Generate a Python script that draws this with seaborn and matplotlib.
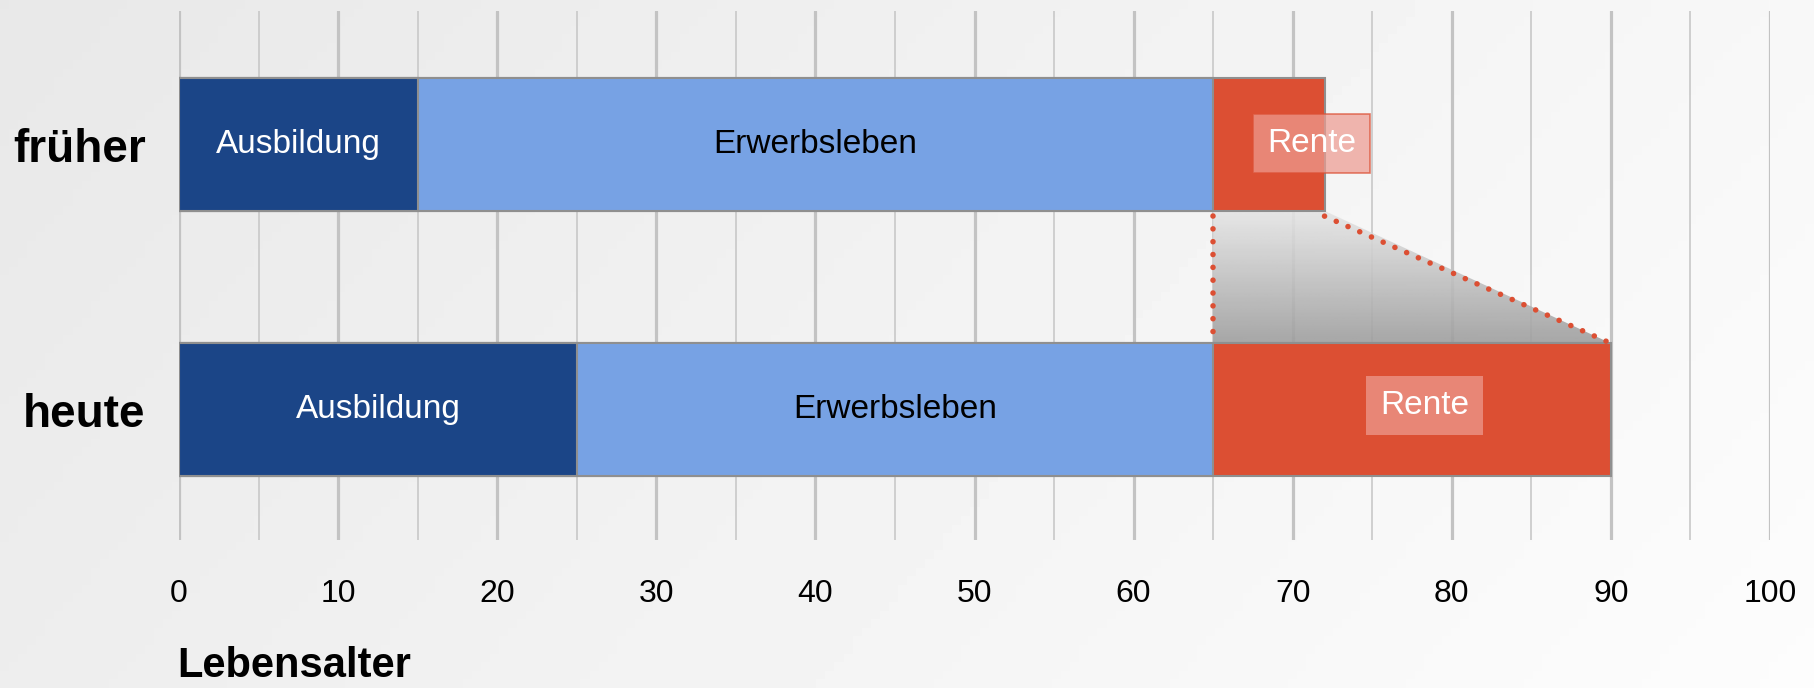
import numpy as np
import pandas as pd
import matplotlib
matplotlib.use("Agg")
import matplotlib.pyplot as plt
from matplotlib.patches import Polygon
from matplotlib.ticker import MultipleLocator
import seaborn as sns

# data
periods = ["früher", "heute"]
ausbildung_end = [15, 25]
erwerb_end = [65, 65]
rente_end = [72, 90]
segment_names = ["Ausbildung", "Erwerbsleben", "Rente"]
xticks = [0, 10, 20, 30, 40, 50, 60, 70, 80, 90, 100]

c_ausb = "#1b4587"
c_erwerb = "#77a2e4"
c_rente = "#dc4f33"
c_edge = "#8f8f8f"

sns.set_theme(style="white")
plt.rcParams["font.family"] = ["Liberation Sans", "DejaVu Sans"]

fig = plt.figure(figsize=(18.14, 6.88), dpi=100)

# soft grey background
bg = fig.add_axes([0, 0, 1, 1], zorder=-10)
xx, yy = np.meshgrid(np.linspace(0, 1, 200), np.linspace(0, 1, 80))
bg.imshow(0.91 + 0.06 * xx + 0.02 * yy, cmap="gray", vmin=0, vmax=1,
          extent=[0, 1, 0, 1], aspect="auto", origin="upper")
bg.axis("off")

ax = fig.add_axes([179 / 1814, 1 - 540 / 688, 1591 / 1814, 529 / 688])
ax.patch.set_alpha(0)

df = pd.DataFrame({"period": periods, "ausb": ausbildung_end,
                   "erwerb": erwerb_end, "rente": rente_end})

# stacked bars: longest first, shorter on top
bar_w = 0.5
for col, color in [("rente", c_rente), ("erwerb", c_erwerb), ("ausb", c_ausb)]:
    sns.barplot(data=df, x=col, y="period", orient="h", color=color,
                width=bar_w, edgecolor=c_edge, linewidth=1.5,
                saturation=1, ax=ax, zorder=2)

# gradient wedge between the two retirement segments
hw = bar_w / 2
poly = Polygon([(erwerb_end[0], hw), (rente_end[0], hw),
                (rente_end[1], 1 - hw), (erwerb_end[1], 1 - hw)],
               closed=True, transform=ax.transData, facecolor="none",
               edgecolor="none")
ax.add_patch(poly)
grad = np.linspace(0.90, 0.62, 100).reshape(-1, 1)
im = ax.imshow(grad, cmap="gray", vmin=0, vmax=1, aspect="auto",
               extent=[erwerb_end[1], rente_end[1], 1 - hw, hw],
               origin="upper", alpha=0.9, zorder=0.8)
im.set_clip_path(poly)

dot_style = dict(color=c_rente, ls=(0, (0.01, 2.3)), lw=4.0,
                 dash_capstyle="round", zorder=3)
ax.plot([erwerb_end[0], erwerb_end[1]], [hw + 0.02, 1 - hw], **dot_style)
ax.plot([rente_end[0], rente_end[1]], [hw + 0.02, 1 - hw], **dot_style)

# segment labels
for i in range(len(periods)):
    ax.text(ausbildung_end[i] / 2, i, segment_names[0], color="white",
            fontsize=24, ha="center", va="center", zorder=4)
    ax.text((ausbildung_end[i] + erwerb_end[i]) / 2, i, segment_names[1],
            color="black", fontsize=24, ha="center", va="center", zorder=4)

ax.text(71.2, -0.003, segment_names[2], color="white", fontsize=24,
        ha="center", va="center", zorder=5,
        bbox=dict(boxstyle="square,pad=0.42", facecolor="#ed9c91", alpha=0.72,
                  edgecolor=c_rente, linewidth=1.2))
ax.text(78.3, 0.985, segment_names[2], color="white", fontsize=24,
        ha="center", va="center", zorder=5,
        bbox=dict(boxstyle="square,pad=0.42", facecolor="#ed9c91", alpha=0.72,
                  edgecolor="none"))

# axes styling
ax.set_xlim(0, 100)
ax.set_ylim(1 + 0.492, -0.504)
ax.set_xticks(xticks)
ax.xaxis.set_minor_locator(MultipleLocator(5))
ax.grid(which="major", axis="x", color="#c3c3c3", linewidth=2.3)
ax.grid(which="minor", axis="x", color="#c8c8c8", linewidth=1.2)
ax.grid(axis="y", visible=False)
ax.set_axisbelow(True)
for s in ax.spines.values():
    s.set_visible(False)
ax.tick_params(axis="x", which="both", length=0, pad=28, labelsize=23,
               labelcolor="black")
ax.tick_params(axis="y", length=0, pad=24)
for lbl in ax.get_yticklabels():
    lbl.set_fontsize(33)
    lbl.set_fontweight("bold")
    lbl.set_color("black")
ax.set_xlabel("")
ax.set_ylabel("")

fig.text(177 / 1814, 1 - 677 / 688, "Lebensalter", fontsize=30,
         fontweight="bold", ha="left", va="baseline", color="black")

fig.savefig("out.png", dpi=100)
